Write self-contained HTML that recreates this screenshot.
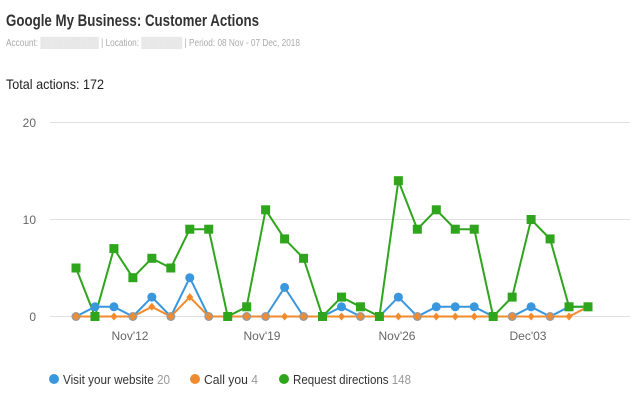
<!DOCTYPE html><html><head><style>body{margin:0;width:640px;height:400px;background:#fff;font-family:"Liberation Sans",sans-serif;overflow:hidden}</style></head><body>
<svg width="640" height="400" xmlns="http://www.w3.org/2000/svg" font-family="Liberation Sans, sans-serif">
<text x="6" y="26" font-size="17" font-weight="bold" fill="#333" textLength="253" lengthAdjust="spacingAndGlyphs">Google My Business: Customer Actions</text>
<text x="6" y="46" font-size="10" fill="#aaa" textLength="294" lengthAdjust="spacingAndGlyphs">Account: <tspan fill="#e8e8e8">██████████</tspan> | Location: <tspan fill="#e8e8e8">███████</tspan> | Period: 08 Nov - 07 Dec, 2018</text>
<text x="6" y="89" font-size="14" fill="#222" textLength="98" lengthAdjust="spacingAndGlyphs">Total actions: 172</text>
<g stroke="#e0e0e0" stroke-width="1"><line x1="50" x2="630" y1="122.5" y2="122.5"/><line x1="50" x2="630" y1="219.5" y2="219.5"/><line x1="50" x2="630" y1="316.5" y2="316.5"/></g>
<g font-size="12" fill="#666" text-anchor="end"><text x="36" y="127">20</text><text x="36" y="224">10</text><text x="36" y="321">0</text></g>
<g font-size="12" fill="#666" text-anchor="middle"><text x="130" y="340">Nov'12</text><text x="262" y="340">Nov'19</text><text x="397" y="340">Nov'26</text><text x="528" y="340">Dec'03</text></g>
<g id="c"></g>
<g font-size="13"><circle cx="54" cy="379" r="5" fill="#3a97dd"/><text x="63" y="384" fill="#333" textLength="107" lengthAdjust="spacingAndGlyphs">Visit your website <tspan fill="#999">20</tspan></text>
<circle cx="195" cy="379" r="5" fill="#f18b2e"/><text x="204" y="384" fill="#333" textLength="54" lengthAdjust="spacingAndGlyphs">Call you <tspan fill="#999">4</tspan></text>
<circle cx="284" cy="379" r="5" fill="#2ea51c"/><text x="293" y="384" fill="#333" textLength="118" lengthAdjust="spacingAndGlyphs">Request directions <tspan fill="#999">148</tspan></text></g>
</svg>
<script>
var G=[5,0,7,4,6,5,9,9,0,1,11,8,6,0,2,1,0,14,9,11,9,9,0,2,10,8,1,1];
var B=[0,1,1,0,2,0,4,0,0,0,0,3,0,0,1,0,0,2,0,1,1,1,0,0,1,0,1,1];
var O=[0,0,0,0,1,0,2,0,0,0,0,0,0,0,0,0,0,0,0,0,0,0,0,0,0,0,0,1];
function X(i){return 76+i*512/27}function Y(v){return 316.5-v*9.7}
var s="";
function line(d,c){return '<polyline fill="none" stroke="'+c+'" stroke-width="2" points="'+d.map(function(v,i){return X(i)+","+Y(v)}).join(" ")+'"/>'}
s+=line(B,"#3a97dd");s+=line(O,"#f18b2e");s+=line(G,"#2ea51c");
B.forEach(function(v,i){s+='<circle cx="'+X(i)+'" cy="'+Y(v)+'" r="4.5" fill="'+(v==0?"#9a9a9a":"#3a97dd")+'"/>'});
O.forEach(function(v,i){var x=X(i),y=Y(v);s+='<polygon points="'+x+','+(y-4)+' '+(x+3.5)+','+y+' '+x+','+(y+4)+' '+(x-3.5)+','+y+'" fill="#f18b2e"/>'});
G.forEach(function(v,i){s+='<rect x="'+(X(i)-4.5)+'" y="'+(Y(v)-4.5)+'" width="9" height="9" fill="#2ea51c"/>'});
document.getElementById("c").innerHTML=s;
</script></body></html>
